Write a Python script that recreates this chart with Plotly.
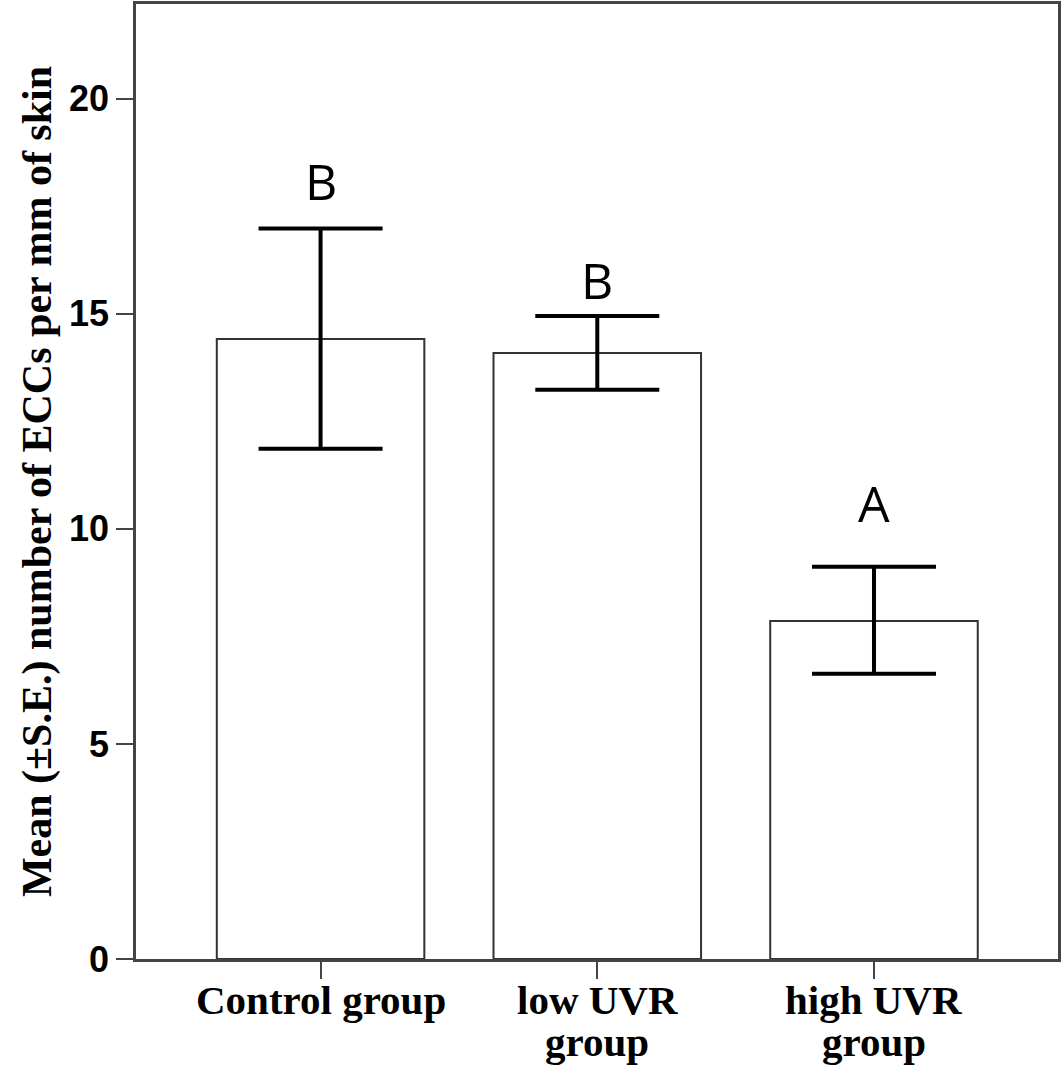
import plotly.graph_objects as go

categories = ["Control group", "low UVR<br>group", "high UVR<br>group"]
means = [14.41, 14.09, 7.86]
err_upper = [16.98, 14.95, 9.12]
err_lower = [11.86, 13.23, 6.63]
sig_letters = ["B", "B", "A"]
letter_y = [18.08, 15.79, 10.6]
y_ticks = [0, 5, 10, 15, 20]

err_plus = [u - m for u, m in zip(err_upper, means)]
err_minus = [m - l for m, l in zip(means, err_lower)]

fig = go.Figure()
fig.add_trace(go.Bar(
    x=categories, y=means, width=0.75,
    marker=dict(color="white", line=dict(color="#333333", width=2)),
    error_y=dict(type="data", symmetric=False, array=err_plus, arrayminus=err_minus,
                 color="black", thickness=4, width=62),
    showlegend=False,
))

for c, t, yy in zip(categories, sig_letters, letter_y):
    fig.add_annotation(x=c, y=yy, text=t, showarrow=False, xref="x", yref="y",
                       font=dict(family="Open Sans", size=50, color="black"),
                       yanchor="middle", xanchor="center")

# category labels, one annotation per line for tight line spacing
for c in categories:
    for i, line in enumerate(c.split("<br>")):
        fig.add_annotation(x=c, y=0, xref="x", yref="paper", text=line, showarrow=False,
                           xanchor="center", yanchor="top", yshift=-16 - 42 * i,
                           font=dict(family="Liberation Serif", size=41, color="black", weight="bold"))

fig.update_layout(
    width=1062, height=1078,
    margin=dict(l=136, r=4, t=4, b=119),
    plot_bgcolor="white", paper_bgcolor="white",
    bargap=0.25,
)
fig.update_xaxes(
    range=[-0.667, 2.665], showline=True, linecolor="#444444", linewidth=2.5, mirror=True,
    ticks="outside", ticklen=17, tickwidth=2, tickcolor="#444444",
    showticklabels=False,
    showgrid=False, zeroline=False, automargin=False,
)
fig.update_yaxes(
    range=[0, 22.2], tickvals=y_ticks, showline=True, linecolor="#444444", linewidth=2.5, mirror=True,
    ticks="outside", ticklen=17, tickwidth=2, tickcolor="#444444",
    tickfont=dict(family="Liberation Sans", size=36, color="black", weight="bold"),
    showgrid=False, zeroline=False, automargin=False,
    title=dict(text="Mean (±S.E.) number of ECCs per mm of skin", standoff=5,
               font=dict(family="Liberation Serif", size=42, color="black", weight="bold")),
)

fig.write_html("out.html")
